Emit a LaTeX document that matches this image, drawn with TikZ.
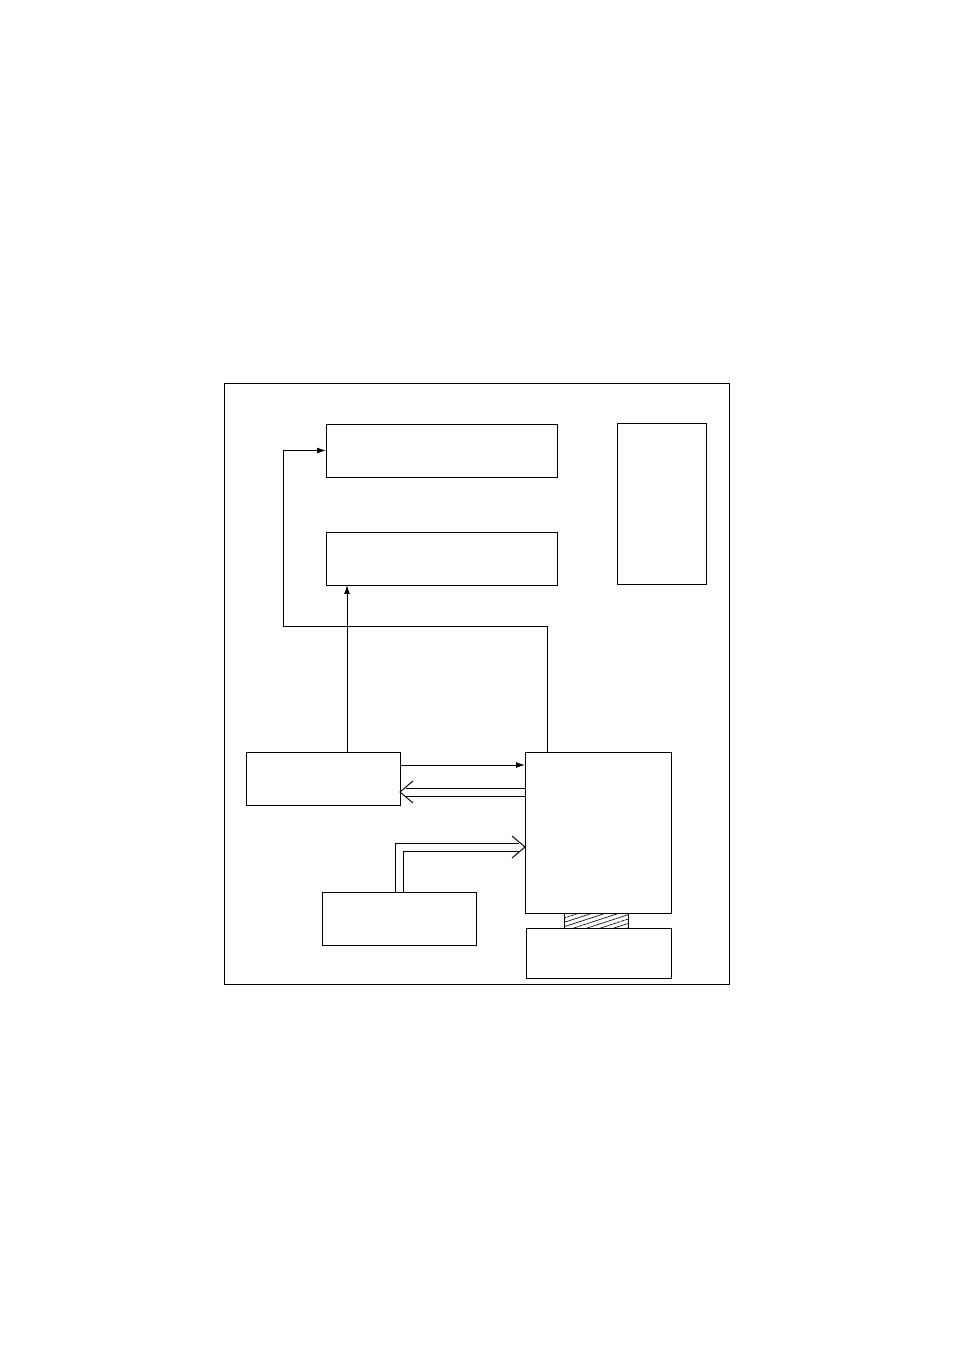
\documentclass[tikz,border=0pt]{standalone}
\usepackage{tikz}
\usetikzlibrary{arrows.meta}
\usetikzlibrary{calc}
\usetikzlibrary{positioning}
\usetikzlibrary{patterns.meta}
\newcommand{\px}{0.624pt}

\begin{document}
\begin{tikzpicture}[
	x=\px, y=-\px,
	line width=0.6pt,
  	> = {Latex[length=5.5pt,width=3.6pt]},
  	box/.style = {draw,anchor=north west,inner sep=0pt,outer sep=0pt},
  	twin/.style = {line join=miter}
  	]

	\useasboundingbox (0,0) rectangle (954,1351);

	% frame
	\draw (224,383) rectangle (729,984);

	\node[box,minimum width=231*\px,minimum height=53*\px] (A) at (326,424) {};
	\node[box,minimum width=231*\px,minimum height=53*\px] (B) at (326,532) {};
	\node[box,minimum width=89*\px,minimum height=161*\px]  (C) at (617,423) {};
	\node[box,minimum width=154*\px,minimum height=53*\px] (D) at (246,752) {};
	\node[box,minimum width=146*\px,minimum height=161*\px] (E) at (525,752) {};
	\node[box,minimum width=154*\px,minimum height=53*\px] (F) at (322,892) {};
	\node[box,minimum width=64*\px,minimum height=15*\px,
		pattern={Lines[angle=18,distance=2.6pt,line width=0.4pt]}] (H) at (564,913) {};
	\node[box,minimum width=145*\px,minimum height=50*\px] (G) at (526,928) {};

  	\coordinate (@1) at (547,626);
  	\coordinate (@2) at (283,626);
  	\coordinate (@3) at (347,0);
  	\coordinate (@4) at (0,765);
  	\coordinate (@5) at (0,792);
  	\coordinate (@6) at (0,847);

	\draw[->] (E.north -| @1) -- (@1) -- (@2) |- (A.west);
	\draw[->] (D.north -| @3) -- (B.south -| @3);
	\draw[->] (D.east |- @4) -- (E.west |- @4);

	% double arrow E -> D
	\coordinate (@7) at (D.east |- @5);
	\draw[twin] ($(E.west |- @5)+(0,-4)$) -- ($(@7)+(6,-4)$);
	\draw[twin] ($(E.west |- @5)+(0,4)$) -- ($(@7)+(6,4)$);
	\draw[twin] ($(@7)+(13,-11)$) -- (@7) -- ($(@7)+(13,11)$);

	% double arrow F -> E
	\coordinate (@8) at (E.west |- @6);
	\draw[twin] ($(F.north)+(-4,0)$) |- ($(@8)+(-6,-4)$);
	\draw[twin] ($(F.north)+(4,0)$) |- ($(@8)+(-6,4)$);
	\draw[twin] ($(@8)+(-13,-11)$) -- (@8) -- ($(@8)+(-13,11)$);

\end{tikzpicture}
\end{document}
